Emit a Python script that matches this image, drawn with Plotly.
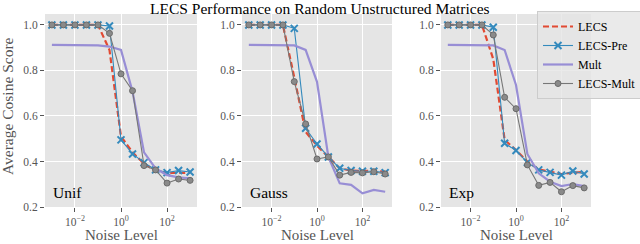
import plotly.graph_objects as go

noise = [10 ** (-3 + 0.5 * i) for i in range(13)]

panels = ["Unif", "Gauss", "Exp"]

lecs = {
    "Unif":  [1.0, 1.0, 1.0, 1.0, 1.0, 0.89, 0.51, 0.44, 0.39, 0.36, 0.35, 0.35, 0.35],
    "Gauss": [1.0, 1.0, 1.0, 1.0, 0.77, 0.53, 0.47, 0.42, 0.37, 0.36, 0.36, 0.358, 0.355],
    "Exp":   [1.0, 1.0, 1.0, 1.0, 0.85, 0.495, 0.45, 0.40, 0.365, 0.355, 0.345, 0.35, 0.355],
}
lecs_pre = {
    "Unif":  [1.0, 1.0, 1.0, 1.0, 1.0, 0.995, 0.495, 0.433, 0.395, 0.363, 0.351, 0.36, 0.354],
    "Gauss": [1.0, 1.0, 1.0, 1.0, 0.985, 0.546, 0.477, 0.42, 0.37, 0.36, 0.357, 0.357, 0.351],
    "Exp":   [1.0, 1.0, 1.0, 1.0, 0.99, 0.48, 0.448, 0.396, 0.363, 0.352, 0.34, 0.358, 0.345],
}
mult = {
    "Unif":  [0.912, 0.912, 0.912, 0.911, 0.91, 0.905, 0.89, 0.707, 0.44, 0.37, 0.34, 0.33, 0.326],
    "Gauss": [0.912, 0.912, 0.912, 0.911, 0.91, 0.89, 0.75, 0.42, 0.304, 0.297, 0.26, 0.275, 0.267],
    "Exp":   [0.912, 0.912, 0.912, 0.911, 0.91, 0.89, 0.736, 0.433, 0.348, 0.311, 0.292, 0.301, 0.292],
}
lecs_mult = {
    "Unif":  [1.0, 1.0, 1.0, 1.0, 1.0, 0.963, 0.785, 0.711, 0.382, 0.363, 0.305, 0.323, 0.317],
    "Gauss": [1.0, 1.0, 1.0, 1.0, 0.751, 0.565, 0.411, 0.42, 0.34, 0.352, 0.35, 0.355, 0.345],
    "Exp":   [1.0, 1.0, 1.0, 1.0, 0.956, 0.682, 0.632, 0.385, 0.295, 0.308, 0.267, 0.294, 0.284],
}

x_tickvals = [1e-2, 1e0, 1e2]
x_ticktext = ["10<sup>−2</sup>", "10<sup>0</sup>", "10<sup>2</sup>"]
y_tickvals = [0.2, 0.4, 0.6, 0.8, 1.0]
y_ticktext = ["0.2", "0.4", "0.6", "0.8", "1.0"]

title = "LECS Performance on Random Unstructured Matrices"
x_label = "Noise Level"
y_label = "Average Cosine Score"

FONT = "Liberation Serif"
RED, BLUE, PURPLE, GRAY = "#E24A33", "#348ABD", "#988ED5", "#777777"

W, H = 640, 244


def px(X):
    return X / W


def py(Y):
    return 1 - Y / H


xdoms = [(px(45), px(197)), (px(242), px(392)), (px(441), px(591))]
ydom = (py(207), py(14))

fig = go.Figure()
for k, p in enumerate(panels):
    xa = "x" if k == 0 else f"x{k+1}"
    ya = "y" if k == 0 else f"y{k+1}"
    show = k == 0
    fig.add_trace(go.Scatter(x=noise, y=lecs[p], mode="lines", name="LECS",
                             line=dict(color=RED, width=2.2, dash="6px,3px"),
                             xaxis=xa, yaxis=ya, showlegend=show, legendrank=1))
    fig.add_trace(go.Scatter(x=noise, y=lecs_pre[p], mode="lines+markers", name="LECS-Pre",
                             line=dict(color=BLUE, width=1.1),
                             marker=dict(symbol="x-thin", size=7, color=BLUE,
                                         line=dict(color=BLUE, width=2)),
                             xaxis=xa, yaxis=ya, showlegend=show, legendrank=2))
    fig.add_trace(go.Scatter(x=noise, y=mult[p], mode="lines", name="Mult",
                             line=dict(color=PURPLE, width=2.2),
                             xaxis=xa, yaxis=ya, showlegend=show, legendrank=3))
    fig.add_trace(go.Scatter(x=noise, y=lecs_mult[p], mode="lines+markers", name="LECS-Mult",
                             line=dict(color=GRAY, width=1.1),
                             marker=dict(symbol="circle", size=6, color="#8a8a8a",
                                         line=dict(color="#6a6a6a", width=1)),
                             xaxis=xa, yaxis=ya, showlegend=show, legendrank=4))

axis_common = dict(showgrid=True, gridcolor="white", gridwidth=1, zeroline=False,
                   showline=False, ticks="outside", ticklen=4, tickwidth=1,
                   tickcolor="#555555", tickfont=dict(family=FONT, size=11.5, color="#555555"))
layout = dict(width=W, height=H, margin=dict(l=0, r=0, t=0, b=0, autoexpand=False),
              paper_bgcolor="white", plot_bgcolor="#E5E5E5", showlegend=True,
              font=dict(family=FONT))
for k in range(3):
    sx = "" if k == 0 else str(k + 1)
    layout[f"xaxis{sx}"] = dict(type="log", range=[-3.3, 3.3], domain=list(xdoms[k]),
                               anchor=f"y{sx}", tickvals=x_tickvals, ticktext=x_ticktext,
                               **axis_common)
    layout[f"yaxis{sx}"] = dict(range=[0.2, 1.048], domain=list(ydom), anchor=f"x{sx}",
                               tickvals=y_tickvals, ticktext=y_ticktext, **axis_common)

layout["legend"] = dict(x=px(537), y=py(11), xanchor="left", yanchor="top",
                        bgcolor="rgba(229,229,229,0.8)", bordercolor="#cccccc", borderwidth=1,
                        font=dict(family=FONT, size=12, color="black"),
                        itemwidth=30, tracegroupgap=0)
fig.update_layout(**layout)

ann = [dict(text=title, x=px(320), y=py(8), xref="paper", yref="paper",
            xanchor="center", yanchor="middle",
            showarrow=False, font=dict(family=FONT, size=15.5, color="black"))]
ann.append(dict(text=y_label, x=px(8), y=py(106), xref="paper", yref="paper",
                xanchor="center", yanchor="middle",
                textangle=-90, showarrow=False, font=dict(family=FONT, size=15.5, color="#555555")))
for k, p in enumerate(panels):
    xc = (xdoms[k][0] + xdoms[k][1]) / 2
    ann.append(dict(text=x_label, x=xc, y=0, xref="paper", yref="paper",
                    xanchor="center", yanchor="bottom", borderpad=0,
                    showarrow=False, font=dict(family=FONT, size=15, color="#555555")))
    ann.append(dict(text=p, x=xdoms[k][0] + 6 / W, y=py(192), xref="paper", yref="paper",
                    xanchor="left", yanchor="middle",
                    showarrow=False, font=dict(family=FONT, size=15.5, color="black")))
fig.update_layout(annotations=ann)

# remove the browser's default 8px body margin so the figure fills the window
fig.write_html("out.html", config={"displayModeBar": False},
               post_script="document.body.style.margin='0';")
